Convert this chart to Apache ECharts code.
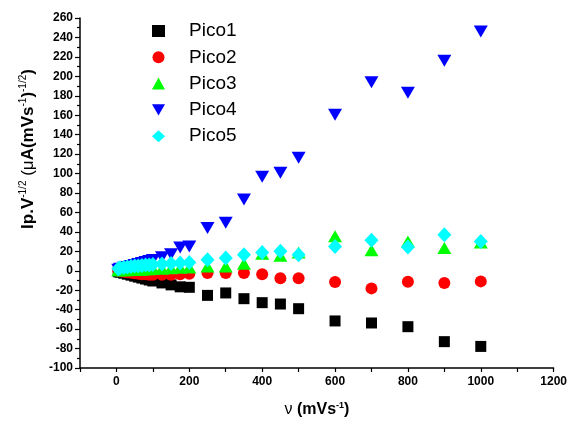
<!DOCTYPE html>
<html>
<head>
<meta charset="utf-8">
<script src="https://cdn.jsdelivr.net/npm/echarts@6/dist/echarts.min.js"></script>
<style>
  html, body { margin: 0; padding: 0; background: #fff; }
  #chart { width: 570px; height: 423px; }
</style>
</head>
<body>
<div id="chart"></div>
<script>
// Scan rates (mV/s)
const scanRate = [5, 10, 20, 30, 40, 50, 60, 70, 80, 90, 100, 125, 150, 175, 200,
                  250, 300, 350, 400, 450, 500, 600, 700, 800, 900, 1000];

// Ip.V^-1/2 for each peak
const pico1 = [-1, -1.5, -2.5, -3.5, -4.5, -5.5, -6.5, -7.5, -8.5, -9.5, -10.5, -12.5, -14.5, -16.5, -17,
               -25.3, -22.8, -28.7, -32.8, -34.2, -39, -51.6, -53.7, -57.5, -72.9, -77.8];
const pico2 = [0, -0.5, -1, -1.5, -2, -2.5, -3, -3.5, -3.5, -4, -4, -4, -4, -3.5, -3,
               -2.3, -2.3, -2.3, -3.5, -7.6, -7.6, -11.5, -18.1, -11.2, -12.6, -10.9];
const pico3 = [0.5, 0.5, 0.5, 0.5, 1, 1, 1, 1, 1.5, 1.5, 2, 2, 2.5, 3, 3.5,
               4.5, 4.5, 7.3, 17.6, 15.5, 18.9, 35.4, 21, 30.2, 23.5, 29];
const pico4 = [1, 2, 3, 4, 5, 6, 7, 8, 9, 10, 11, 14, 17, 24, 25,
               44, 49.5, 73.4, 96.7, 100.8, 116.2, 160.6, 194, 183, 216, 246];
const pico5 = [2, 3, 3.5, 4, 4.5, 5, 5, 5.5, 6, 6, 6.5, 7, 7.5, 8, 8.5,
               11.4, 13.2, 16.6, 18.9, 20, 16.6, 25.1, 31.3, 24.5, 37.1, 30.2];

const seriesNames = ['Pico1', 'Pico2', 'Pico3', 'Pico4', 'Pico5'];
const seriesData = [pico1, pico2, pico3, pico4, pico5];
const colors = ['#000000', '#ff0000', '#00ff00', '#0000ff', '#00ffff'];
const symbols = ['rect', 'circle', 'triangle', 'path://M0,0 L10,0 L5,8.66 Z', 'diamond'];
const sizes = [[11, 11], [12, 12], [14, 12], [14, 12], [14, 15]];

const pairs = vals => scanRate.map((x, i) => [x, vals[i]]);

const chart = echarts.init(document.getElementById('chart'), null, { renderer: 'canvas' });

const tickFont = { fontFamily: 'Arial, "Liberation Sans", sans-serif', fontWeight: 'bold', fontSize: 12, color: '#000' };

chart.setOption({
  animation: false,
  backgroundColor: '#fff',
  grid: { left: 80, right: 14, top: 18, bottom: 55, containLabel: false },
  legend: {
    orient: 'vertical',
    left: 147,
    top: 15,
    itemWidth: 13,
    itemHeight: 12,
    itemGap: 4.3,
    selectedMode: false,
    data: seriesNames.map((n, i) => ({ name: n, icon: symbols[i] })),
    textStyle: {
      fontFamily: 'Arial, "Liberation Sans", sans-serif',
      fontSize: 19,
      color: '#000',
      padding: [0, 0, 0, 19],
      lineHeight: 22
    }
  },
  xAxis: {
    type: 'value',
    min: -100,
    max: 1200,
    interval: 100,
    splitLine: { show: false },
    axisLine: { onZero: false, lineStyle: { color: '#000', width: 1.5 } },
    axisTick: { show: true, inside: false, length: 4, lineStyle: { color: '#000', width: 1.2 } },
    axisLabel: Object.assign({
      margin: 8,
      formatter: v => (v >= 0 && v % 200 === 0) ? String(v) : ''
    }, tickFont)
  },
  yAxis: {
    type: 'value',
    min: -100,
    max: 260,
    interval: 20,
    splitLine: { show: false },
    axisLine: { onZero: false, lineStyle: { color: '#000', width: 1.5 } },
    axisTick: { show: true, inside: false, length: 5, lineStyle: { color: '#000', width: 1.2 } },
    minorTick: { show: true, splitNumber: 2, length: 3, lineStyle: { color: '#000', width: 1.2 } },
    axisLabel: Object.assign({ margin: 7 }, tickFont)
  },
  graphic: [
    {
      type: 'text',
      x: 28,
      y: 149,
      rotation: Math.PI / 2,
      style: {
        text: '{b|Ip.V}{s|-1/2}{n| (}{n|μ}{b|A(mVs}{s|-1}{b|)}{s|-1/2}{b|)}',
        align: 'center',
        verticalAlign: 'middle',
        rich: {
          b: { fontFamily: 'Arial, "Liberation Sans", sans-serif', fontWeight: 'bold', fontSize: 17, fill: '#000' },
          n: { fontFamily: 'Arial, "Liberation Sans", sans-serif', fontSize: 17, fill: '#000' },
          s: { fontFamily: 'Arial, "Liberation Sans", sans-serif', fontSize: 10, fill: '#000', verticalAlign: 'top', padding: [0, 0, 10, 0] }
        }
      }
    },
    {
      type: 'text',
      x: 317,
      y: 410,
      style: {
        text: '{n|ν }{b|(mVs}{s|-1}{b|)}',
        align: 'center',
        verticalAlign: 'middle',
        rich: {
          b: { fontFamily: 'Arial, "Liberation Sans", sans-serif', fontWeight: 'bold', fontSize: 16, fill: '#000' },
          n: { fontFamily: 'Arial, "Liberation Sans", sans-serif', fontSize: 16, fill: '#000' },
          s: { fontFamily: 'Arial, "Liberation Sans", sans-serif', fontWeight: 'bold', fontSize: 9, fill: '#000', verticalAlign: 'top', padding: [0, 0, 9, 0] }
        }
      }
    }
  ],
  series: seriesNames.map((name, i) => ({
    name: name,
    type: 'scatter',
    data: pairs(seriesData[i]),
    symbol: symbols[i],
    symbolSize: sizes[i],
    itemStyle: { color: colors[i], opacity: 1 },
    z: 2 + i
  }))
});
</script>
</body>
</html>
